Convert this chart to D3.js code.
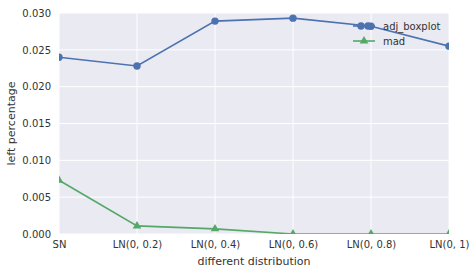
<!DOCTYPE html>
<html><head><meta charset="utf-8">
<script src="https://cdn.jsdelivr.net/npm/d3@7"></script>
<style>body{margin:0;background:#fff}svg{display:block}text{font-family:"DejaVu Sans",sans-serif;fill:#262626}</style>
</head><body><svg id="c" width="476" height="274"></svg>
<script>
const categories = ["SN","LN(0, 0.2)","LN(0, 0.4)","LN(0, 0.6)","LN(0, 0.8)","LN(0, 1)"];
const adjBoxplot = [0.0240,0.0228,0.0289,0.0293,0.0282,0.0255];
const mad = [0.0073,0.0011,0.0007,0.0000,0.0000,0.0000];
const yTicks = [0,0.005,0.010,0.015,0.020,0.025,0.030];
const seriesNames = ["adj_boxplot","mad"];

const svg = d3.select("#c");
const L=59,R=449,T=13,B=234;
const x = d3.scalePoint().domain(categories).range([L,R]);
const y = d3.scaleLinear().domain([0,0.030]).range([B,T]);
svg.append("rect").attr("x",L).attr("y",T).attr("width",R-L).attr("height",B-T).attr("fill","#EAEAF2");
const defs = svg.append("defs");
defs.append("clipPath").attr("id","clip").append("rect").attr("x",L).attr("y",T).attr("width",R-L).attr("height",B-T);

const gx = svg.append("g").attr("transform",`translate(0,${B})`).call(d3.axisBottom(x).tickSize(0).tickPadding(7));
gx.select(".domain").remove();
gx.selectAll("text").attr("font-size",10).style("font-family","DejaVu Sans").style("fill","#333");
const gy = svg.append("g").attr("transform",`translate(${L},0)`).call(d3.axisLeft(y).tickValues(yTicks).tickFormat(d3.format(".3f")).tickSize(0).tickPadding(8));
gy.select(".domain").remove();
gy.selectAll("text").attr("font-size",10).style("font-family","DejaVu Sans").style("fill","#333");

const grid = svg.append("g");
grid.selectAll(".gy").data(yTicks).join("line").attr("x1",L).attr("x2",R).attr("y1",d=>y(d)).attr("y2",d=>y(d)).attr("stroke","#fff").attr("stroke-width",1);
grid.selectAll(".gx").data(categories).join("line").attr("x1",d=>x(d)).attr("x2",d=>x(d)).attr("y1",T).attr("y2",B).attr("stroke","#fff").attr("stroke-width",1);

const line = d3.line().x((d,i)=>x(categories[i])).y(d=>y(d));
const plot = svg.append("g").attr("clip-path","url(#clip)");
const colors = ["#4C72B0","#55A868"];
plot.append("path").datum(adjBoxplot).attr("d",line).attr("fill","none").attr("stroke",colors[0]).attr("stroke-width",1.6);
plot.selectAll(".c").data(adjBoxplot).join("circle").attr("cx",(d,i)=>x(categories[i])).attr("cy",d=>y(d)).attr("r",3.7).attr("fill",colors[0]);
plot.append("path").datum(mad).attr("d",line).attr("fill","none").attr("stroke",colors[1]).attr("stroke-width",1.6);
const tri = d3.symbol().type(d3.symbolTriangle).size(32);
plot.selectAll(".t").data(mad).join("path").attr("d",tri).attr("transform",(d,i)=>`translate(${x(categories[i])},${y(d)})`).attr("fill",colors[1]);

// legend
const lg = svg.append("g");
[0,1].forEach(i=>{
  const yy = 26+i*15;
  lg.append("line").attr("x1",353).attr("x2",375).attr("y1",yy).attr("y2",yy).attr("stroke",colors[i]).attr("stroke-width",1.6);
  if(i===0){
    lg.append("circle").attr("cx",361).attr("cy",yy).attr("r",3.7).attr("fill",colors[0]);
    lg.append("circle").attr("cx",368).attr("cy",yy).attr("r",3.7).attr("fill",colors[0]);
  } else {
    lg.append("path").attr("d",tri).attr("transform",`translate(364,${yy})`).attr("fill",colors[1]);
  }
  lg.append("text").attr("x",383).attr("y",yy+4).attr("font-size",10).style("fill","#333").text(seriesNames[i]);
});

svg.append("text").attr("x",(L+R)/2).attr("y",265).attr("text-anchor","middle").attr("font-size",11).style("fill","#333").text("different distribution");
svg.append("text").attr("transform",`translate(15,${(T+B)/2}) rotate(-90)`).attr("text-anchor","middle").attr("font-size",11).style("fill","#333").text("left percentage");
</script></body></html>
